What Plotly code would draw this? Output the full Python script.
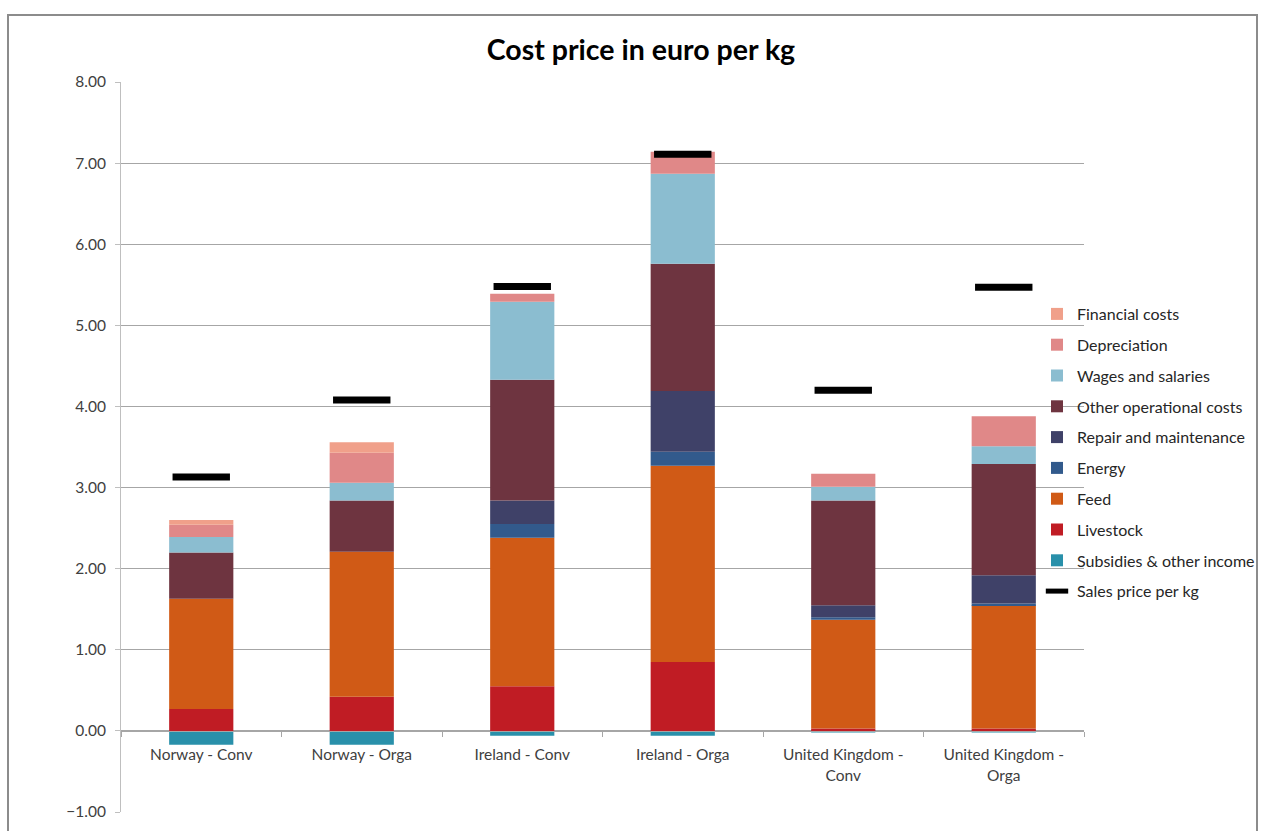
import plotly.graph_objects as go

# Categories (farm type per country)
categories = [
    "Norway - Conv",
    "Norway - Orga",
    "Ireland - Conv",
    "Ireland - Orga",
    "United Kingdom -<br>Conv",
    "United Kingdom -<br>Orga",
]

# Cost components, euro per kg
subsidies = [-0.17, -0.17, -0.06, -0.06, -0.02, -0.02]
livestock = [0.27, 0.42, 0.55, 0.85, 0.03, 0.03]
feed = [1.36, 1.79, 1.83, 2.42, 1.34, 1.52]
energy = [0.00, 0.00, 0.17, 0.17, 0.03, 0.02]
repair = [0.00, 0.00, 0.29, 0.75, 0.15, 0.35]
other_operational = [0.57, 0.63, 1.49, 1.57, 1.29, 1.37]
wages = [0.19, 0.22, 0.96, 1.11, 0.17, 0.22]
depreciation = [0.15, 0.37, 0.10, 0.27, 0.16, 0.37]
financial = [0.06, 0.13, 0.00, 0.00, 0.00, 0.00]

# Sales price, euro per kg
sales_price = [3.13, 4.08, 5.48, 7.11, 4.20, 5.47]

# Stacked from the bottom up
series = [
    ("Subsidies & other income", subsidies, "#2990AA"),
    ("Livestock", livestock, "#C01C24"),
    ("Feed", feed, "#D05A16"),
    ("Energy", energy, "#325A8C"),
    ("Repair and maintenance", repair, "#3F4168"),
    ("Other operational costs", other_operational, "#6E3440"),
    ("Wages and salaries", wages, "#8BBDD0"),
    ("Depreciation", depreciation, "#E08888"),
    ("Financial costs", financial, "#F0A08A"),
]

fig = go.Figure()

n = len(series)
for i, (name, vals, color) in enumerate(series):
    fig.add_trace(go.Bar(
        x=categories, y=vals, name=name, legendgroup=name,
        legendrank=n - i,
        marker=dict(color=color, line=dict(width=0)),
    ))

fig.add_trace(go.Scatter(
    x=categories, y=sales_price, name="Sales price per kg",
    mode="markers", legendgroup="sales", legendrank=n + 1,
    marker=dict(symbol="line-ew", size=41, color="black",
                line=dict(color="black", width=7)),
))

W, H = 1261, 831
left, right, top, bottom = 121, 1084, 82, 812
pw, ph = right - left, bottom - top


def px_x(x):
    return (x - left) / pw


def px_y(y):
    return (bottom - y) / ph


fig.update_layout(
    width=W, height=H,
    margin=dict(l=left, r=W - right, t=top, b=H - bottom, autoexpand=False),
    paper_bgcolor="white", plot_bgcolor="white",
    barmode="relative", bargap=0.6,
    font=dict(family="Lato, 'Open Sans', sans-serif", color="#404040", size=15),
    title=dict(
        text="<b>Cost price in euro per kg</b>",
        x=641 / W, xref="container", xanchor="center",
        y=1 - 50 / H, yref="container", yanchor="middle",
        font=dict(size=28.5, color="black"),
    ),
    showlegend=True,
    legend=dict(
        x=px_x(1037), y=px_y(297), xanchor="left", yanchor="top",
        traceorder="grouped", tracegroupgap=7,
        font=dict(size=16, color="#262626"),
        bgcolor="rgba(0,0,0,0)",
        itemwidth=30,
    ),
    xaxis=dict(
        anchor="free", position=1 / 9,
        showline=True, linecolor="#a6a6a6", linewidth=1,
        ticks="outside", tickson="boundaries", ticklen=5,
        tickcolor="#a6a6a6", showgrid=False,
        tickfont=dict(size=15.5, color="#404040"),
        ticklabelstandoff=10,
        fixedrange=True,
    ),
    yaxis=dict(
        range=[-1, 8], dtick=1, tickformat=".2f",
        showline=True, linecolor="#bfbfbf", linewidth=1,
        ticks="outside", ticklen=5, tickcolor="#bfbfbf",
        showgrid=True, gridcolor="#a6a6a6", gridwidth=1,
        zeroline=False,
        tickfont=dict(size=15.5, color="#404040"),
        ticklabelstandoff=6,
        fixedrange=True,
    ),
    shapes=[
        dict(type="rect", xref="paper", yref="paper",
             x0=px_x(8), x1=px_x(1257), y0=px_y(845), y1=px_y(15),
             line=dict(color="#8c8c8c", width=2), layer="below"),
    ],
)

fig.write_html("out.html")
